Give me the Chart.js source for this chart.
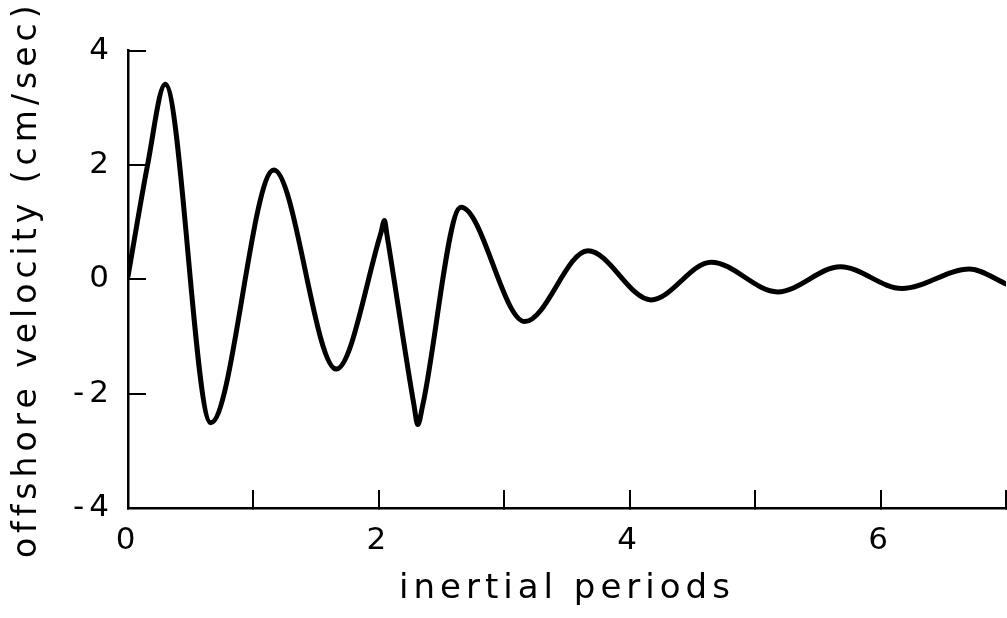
<!DOCTYPE html>
<html>
<head>
<meta charset="utf-8">
<script src="https://cdn.jsdelivr.net/npm/chart.js@4/dist/chart.umd.min.js"></script>
<style>
  html, body { margin: 0; padding: 0; background: #ffffff; }
  #c { display: block; }
</style>
</head>
<body>
<canvas id="c" width="1007" height="618"></canvas>
<script>
// Values (start, extrema and a few flank points)
const periods = [0, 0.156, 0.297, 0.66, 1.163, 1.66, 2.015, 2.045, 2.063, 2.28, 2.31, 2.35, 2.655, 3.164, 3.667, 4.17, 4.65, 5.18, 5.68, 6.17, 6.71, 7.0];
const velocity = [0.05, 2.0, 3.41, -2.51, 1.91, -1.57, 0.80, 1.03, 0.80, -2.20, -2.54, -2.20, 1.26, -0.74, 0.50, -0.36, 0.30, -0.22, 0.22, -0.16, 0.18, -0.08];
const xTickLabels = { 0: '0', 2: '2', 4: '4', 6: '6' };
const yTickLabels = { '-4': '-4', '-2': '-2', '0': '0', '2': '2', '4': '4' };
const xTitle = 'inertial periods';
const yTitle = 'offshore velocity (cm/sec)';

const points = periods.map((p, i) => ({ x: p, y: velocity[i] }));

const spacingPlugin = {
  id: 'spacing',
  beforeDraw(chart) { chart.ctx.letterSpacing = '5px'; },
  afterDraw(chart) { chart.ctx.letterSpacing = '0px'; }
};

const font = 'DejaVu Sans';

new Chart(document.getElementById('c').getContext('2d'), {
  type: 'line',
  data: {
    datasets: [{
      data: points,
      borderColor: '#000000',
      borderWidth: 5,
      pointRadius: 0,
      fill: false,
      cubicInterpolationMode: 'monotone',
      borderCapStyle: 'round',
      borderJoinStyle: 'round'
    }]
  },
  options: {
    responsive: false,
    animation: false,
    devicePixelRatio: 1,
    layout: { padding: { top: 48, right: 1, bottom: 0, left: 0 } },
    plugins: { legend: { display: false }, tooltip: { enabled: false } },
    scales: {
      x: {
        type: 'linear',
        min: 0, max: 7,
        afterFit(scale) { scale.height = 110; scale.paddingLeft = 0; scale.paddingRight = 0; },
        border: { display: true, color: '#000000', width: 2.5 },
        grid: { drawOnChartArea: false, drawTicks: true, tickLength: -18, color: '#000000', lineWidth: 2 },
        ticks: {
          stepSize: 1, autoSkip: false, maxRotation: 0, padding: 32,
          color: '#000000',
          font: { family: font, size: 31 },
          callback: (v) => (xTickLabels[v] !== undefined ? xTickLabels[v] : '')
        },
        title: {
          display: true, text: xTitle, color: '#000000',
          font: { family: font, size: 34 },
          padding: { top: 0, bottom: 8 }
        }
      },
      y: {
        type: 'linear',
        min: -4, max: 4,
        afterFit(scale) { scale.width = 128; },
        border: { display: true, color: '#000000', width: 2.5 },
        grid: { drawOnChartArea: false, drawTicks: true, tickLength: -18, color: '#000000', lineWidth: 2 },
        ticks: {
          stepSize: 2, autoSkip: false, padding: 32,
          color: '#000000',
          font: { family: font, size: 31 },
          callback: (v) => (yTickLabels[String(v)] !== undefined ? yTickLabels[String(v)] : '')
        },
        title: {
          display: true, text: yTitle, color: '#000000',
          font: { family: font, size: 33 },
          padding: { top: 8, bottom: 0 }
        }
      }
    }
  },
  plugins: [spacingPlugin]
});
</script>
</body>
</html>
